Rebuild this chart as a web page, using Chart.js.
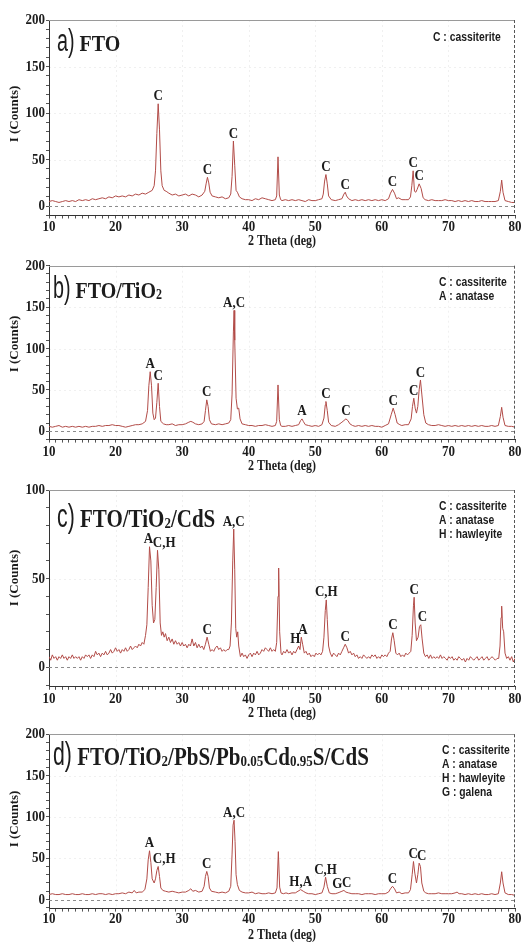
<!DOCTYPE html>
<html>
<head>
<meta charset="utf-8">
<script src="https://cdn.jsdelivr.net/npm/chart.js@4/dist/chart.umd.min.js"></script>
<style>
  html, body { margin: 0; padding: 0; background: #fff; }
  body { width: 523px; height: 942px; position: relative; overflow: hidden; }
  canvas { position: absolute; left: 0; }
</style>
</head>
<body>
<canvas id="panelA" width="523" height="250" style="top:0px;width:523px;height:250px"></canvas>
<canvas id="panelB" width="523" height="224" style="top:250px;width:523px;height:224px"></canvas>
<canvas id="panelC" width="523" height="252" style="top:472px;width:523px;height:252px"></canvas>
<canvas id="panelD" width="523" height="224" style="top:718px;width:523px;height:224px"></canvas>
<script>
// ---- tick labels ----
const xTickLabels = [10, 20, 30, 40, 50, 60, 70, 80];
const yTicksWide = [0, 50, 100, 150, 200];
const yTicksNarrow = [0, 50, 100];
const xAxisTitle = '2 Theta (deg)';
const yAxisTitle = 'I (Counts)';

// ---- scans: [2θ (deg), intensity (counts)] ----
const ftoScan = [[10,5],[10.5,6],[11,5],[11.5,4],[12,5],[12.5,6],[13,5],[13.5,6],[14,5],[14.5,7],[15,6],[15.5,7],[16,6],[16.5,8],[17,7],[17.5,8],[18,9],[18.5,8],[19,10],[19.5,9],[20,11],[20.5,10],[21,11],[21.5,10],[22,12],[22.5,11],[23,13],[23.5,12],[24,14],[24.5,13],[25,15],[25.5,17],[25.8,22],[26.0,38],[26.2,78],[26.4,110],[26.6,82],[26.8,38],[27.0,22],[27.3,17],[27.6,16],[28,14],[28.5,12],[29,13],[29.5,11],[30,12],[30.5,13],[31,11],[31.5,13],[32,12],[32.5,10],[33,12],[33.4,16],[33.6,24],[33.8,31],[34.0,25],[34.2,15],[34.5,11],[35,10],[35.5,9],[36,10],[36.5,8],[37,9],[37.3,13],[37.5,32],[37.7,70],[37.9,44],[38.1,17],[38.3,15],[38.6,10],[39,8],[39.5,7],[40,7],[40.5,6],[41,8],[41.5,7],[42,9],[42.5,8],[43,7],[43.5,6],[44,7],[44.2,11],[44.4,53],[44.6,12],[44.8,7],[45,6],[45.5,7],[46,6],[46.5,7],[47,6],[47.5,7],[48,6],[48.5,5],[49,7],[49.5,6],[50,6],[50.5,7],[51,8],[51.2,13],[51.4,27],[51.6,34],[51.8,24],[52.0,11],[52.4,7],[53,6],[53.5,7],[54,8],[54.3,13],[54.5,15],[54.7,11],[55,8],[55.5,6],[56,7],[56.5,6],[57,7],[57.5,6],[58,7],[58.5,6],[59,7],[59.5,6],[60,7],[60.5,6],[61,8],[61.3,14],[61.6,18],[61.9,14],[62.2,8],[62.5,9],[63,7],[63.5,7],[64,7],[64.3,10],[64.5,22],[64.7,38],[64.9,16],[65.1,15],[65.3,18],[65.6,24],[65.9,19],[66.2,9],[66.5,7],[67,6],[67.5,7],[68,6],[68.5,6],[69,6],[69.5,7],[70,6],[70.5,6],[71,5],[71.5,6],[72,5],[72.5,6],[73,5],[73.5,6],[74,5],[74.5,5],[75,6],[75.5,5],[76,5],[76.5,5],[77,5],[77.5,6],[77.8,16],[78.0,28],[78.2,15],[78.5,6],[79,5],[79.5,4],[80,4]];

const tio2Scan = [[10,6],[10.5,5],[11,6],[11.5,7],[12,5],[12.5,6],[13,5],[13.5,6],[14,5],[14.5,6],[15,5],[15.5,6],[16,5],[16.5,6],[17,6],[17.5,7],[18,6],[18.5,7],[19,7],[19.5,8],[20,7],[20.5,7],[21,6],[21.5,5],[22,6],[22.5,7],[23,8],[23.5,8],[24,9],[24.5,12],[24.8,25],[25.0,55],[25.2,72],[25.4,55],[25.6,22],[25.8,14],[26.0,16],[26.2,35],[26.4,58],[26.6,30],[26.8,12],[27.2,9],[27.6,8],[28,8],[28.5,9],[29,7],[29.5,8],[30,8],[30.5,9],[31,11],[31.3,12],[31.6,11],[32,9],[32.5,8],[33,9],[33.3,12],[33.5,25],[33.7,38],[33.9,30],[34.1,14],[34.4,9],[35,8],[35.5,9],[36,8],[36.5,9],[37,10],[37.3,14],[37.5,45],[37.7,120],[37.8,146],[37.9,110],[38.1,40],[38.3,27],[38.5,28],[38.7,15],[39,9],[39.5,8],[40,7],[40.5,7],[41,6],[41.5,7],[42,7],[42.5,8],[43,7],[43.5,6],[44,7],[44.2,12],[44.4,56],[44.6,14],[44.8,7],[45,6],[45.5,6],[46,7],[46.5,6],[47,7],[47.5,8],[47.8,13],[48.0,15],[48.2,12],[48.5,8],[49,7],[49.5,6],[50,7],[50.5,6],[51,8],[51.3,16],[51.5,32],[51.6,36],[51.8,25],[52.0,11],[52.4,7],[53,6],[53.5,8],[54,11],[54.3,13],[54.6,15],[54.9,13],[55.2,9],[55.6,7],[56,6],[56.5,7],[57,6],[57.5,7],[58,6],[58.5,7],[59,6],[59.5,6],[60,5],[60.5,7],[61,9],[61.4,20],[61.7,28],[62.0,20],[62.3,10],[62.7,8],[63,7],[63.5,8],[64,8],[64.4,15],[64.6,30],[64.8,40],[65.0,28],[65.2,22],[65.4,30],[65.6,50],[65.8,62],[66.0,45],[66.3,20],[66.6,10],[67,8],[67.5,7],[68,7],[68.5,8],[69,7],[69.5,6],[70,7],[70.5,6],[71,7],[71.5,6],[72,7],[72.5,6],[73,7],[73.5,6],[74,7],[74.5,6],[75,7],[75.5,6],[76,6],[76.5,7],[77,6],[77.5,7],[77.8,18],[78.0,29],[78.2,17],[78.5,7],[79,6],[79.5,6],[80,5]];

const cdsScan = [[10,6],[10.25,4],[10.5,7],[10.75,5],[11,6],[11.25,4],[11.5,6],[11.75,5],[12,7],[12.25,5],[12.5,6],[12.75,4],[13,6],[13.25,5],[13.5,7],[13.75,5],[14,6],[14.25,5],[14.5,6],[14.75,4],[15,6],[15.25,5],[15.5,7],[15.75,6],[16,7],[16.25,5],[16.5,7],[16.75,6],[17,9],[17.25,7],[17.5,8],[17.75,6],[18,8],[18.25,7],[18.5,9],[18.75,7],[19,8],[19.25,10],[19.5,8],[19.75,9],[20,11],[20.25,9],[20.5,10],[20.75,8],[21,10],[21.25,9],[21.5,11],[21.75,9],[22,10],[22.25,12],[22.5,10],[22.75,11],[23,12],[23.25,11],[23.5,13],[23.75,12],[24,14],[24.25,13],[24.5,18],[24.7,24],[24.9,45],[25.1,68],[25.3,60],[25.5,35],[25.7,25],[25.9,27],[26.1,45],[26.3,66],[26.5,55],[26.7,25],[26.9,18],[27.1,20],[27.3,17],[27.5,19],[27.75,15],[28,17],[28.25,14],[28.5,16],[28.75,13],[29,15],[29.25,13],[29.5,14],[29.75,12],[30,14],[30.25,12],[30.5,13],[30.75,11],[31,13],[31.25,12],[31.5,16],[31.75,12],[32,14],[32.25,11],[32.5,13],[32.75,11],[33,12],[33.25,10],[33.5,13],[33.75,17],[34,13],[34.25,9],[34.5,10],[34.75,9],[35,11],[35.25,12],[35.5,10],[35.75,11],[36,9],[36.25,10],[36.5,9],[36.75,10],[37,10],[37.2,12],[37.4,25],[37.6,60],[37.75,78],[37.9,55],[38.05,22],[38.2,17],[38.35,20],[38.5,12],[38.75,6],[39,8],[39.25,6],[39.5,7],[39.75,5],[40,7],[40.25,8],[40.5,6],[40.75,8],[41,7],[41.25,9],[41.5,7],[41.75,8],[42,10],[42.25,9],[42.5,11],[42.75,10],[43,9],[43.25,11],[43.5,9],[43.75,10],[44,9],[44.2,14],[44.4,40],[44.5,56],[44.65,20],[44.85,8],[45,7],[45.25,9],[45.5,8],[45.75,10],[46,8],[46.25,9],[46.5,7],[46.75,9],[47,8],[47.25,10],[47.5,12],[47.7,10],[47.9,17],[48.1,13],[48.35,8],[48.6,9],[48.85,7],[49.1,8],[49.35,6],[49.6,7],[49.85,6],[50.1,8],[50.35,7],[50.6,8],[50.85,7],[51.1,9],[51.3,17],[51.5,32],[51.65,38],[51.8,27],[52.0,12],[52.25,8],[52.5,6],[52.75,8],[53,7],[53.25,6],[53.5,8],[53.75,7],[54,9],[54.25,11],[54.5,13],[54.75,11],[55,8],[55.25,9],[55.5,7],[55.75,8],[56,6],[56.25,7],[56.5,5],[56.75,6],[57,5],[57.25,7],[57.5,6],[57.75,5],[58,6],[58.25,5],[58.5,7],[58.75,6],[59,7],[59.25,5],[59.5,6],[59.75,5],[60,7],[60.25,6],[60.5,7],[60.75,6],[61,8],[61.25,9],[61.45,16],[61.65,19.5],[61.85,15],[62.1,8],[62.35,7],[62.6,8],[62.85,6],[63.1,7],[63.35,6],[63.6,8],[63.85,7],[64.1,8],[64.35,9],[64.55,18],[64.75,35],[64.85,39.5],[65.0,25],[65.2,15],[65.45,17],[65.65,23],[65.85,24],[66.05,16],[66.3,8],[66.55,6],[66.8,7],[67.05,5],[67.3,7],[67.55,5],[67.8,6],[68.05,5],[68.3,6],[68.55,5],[68.8,7],[69.05,5],[69.3,6],[69.55,5],[69.8,4],[70.05,6],[70.3,5],[70.55,6],[70.8,4],[71.05,5],[71.3,4],[71.55,6],[71.8,5],[72.05,4],[72.3,5],[72.55,3],[72.8,5],[73.05,4],[73.3,6],[73.55,5],[73.8,4],[74.05,5],[74.3,6],[74.55,4],[74.8,5],[75.05,6],[75.3,4],[75.55,5],[75.8,6],[76.05,4],[76.3,5],[76.55,6],[76.8,5],[77.05,4],[77.3,5],[77.55,5],[77.75,12],[77.9,28],[78.0,34.5],[78.15,22],[78.3,20],[78.5,8],[78.75,5],[79,6],[79.25,4],[79.5,6],[79.75,3],[80,5]];

const stackScan = [[10,6],[10.5,7],[11,6],[11.5,6],[12,7],[12.5,6],[13,6],[13.5,7],[14,6],[14.5,6],[15,7],[15.5,6],[16,6],[16.5,7],[17,6],[17.5,7],[18,7],[18.5,6],[19,7],[19.5,6],[20,7],[20.5,7],[21,8],[21.5,7],[22,9],[22.5,8],[22.8,11],[23.1,8],[23.5,9],[24,9],[24.4,12],[24.7,25],[24.9,48],[25.1,59],[25.3,45],[25.5,25],[25.8,20],[26.0,25],[26.2,35],[26.4,40],[26.6,28],[26.8,14],[27.1,11],[27.5,10],[28,9],[28.5,10],[29,9],[29.5,8],[30,9],[30.5,9],[31,11],[31.3,13],[31.6,10],[32,11],[32.5,9],[33,10],[33.3,16],[33.5,28],[33.7,34],[33.9,28],[34.1,14],[34.4,10],[35,9],[35.5,8],[36,9],[36.5,8],[37,10],[37.3,16],[37.5,55],[37.65,90],[37.8,96],[37.95,70],[38.1,30],[38.3,18],[38.6,11],[39,9],[39.5,8],[40,8],[40.5,9],[41,7],[41.5,8],[42,7],[42.5,7],[43,8],[43.5,7],[44,8],[44.25,14],[44.45,58],[44.65,15],[44.85,8],[45.2,7],[45.6,8],[46,7],[46.5,8],[47,8],[47.4,10],[47.8,12],[48.2,10],[48.6,8],[49,7],[49.5,7],[50,6],[50.5,7],[51,8],[51.3,15],[51.55,27],[51.8,16],[52.1,8],[52.5,7],[53,7],[53.4,8],[53.7,9],[54,10],[54.3,11],[54.6,9],[55,8],[55.5,7],[56,7],[56.5,7],[57,6],[57.5,7],[58,7],[58.5,7],[59,6],[59.5,7],[60,7],[60.5,7],[61,9],[61.3,13],[61.6,16],[61.9,13],[62.2,8],[62.6,9],[63,7],[63.5,8],[64,8],[64.3,12],[64.55,30],[64.75,46],[64.95,32],[65.2,20],[65.4,30],[65.6,44],[65.8,40],[66.0,20],[66.3,10],[66.6,8],[67,7],[67.5,7],[68,7],[68.5,8],[69,7],[69.5,7],[70,7],[70.5,7],[71,8],[71.3,9],[71.6,7],[72,7],[72.5,6],[73,7],[73.5,6],[74,7],[74.5,6],[75,7],[75.5,6],[76,6],[76.5,7],[77,6],[77.5,7],[77.8,20],[78.0,33.6],[78.2,20],[78.5,8],[79,6],[79.5,6],[80,5]];

// ---- phase tags: [peak 2θ, tag, optional 2θ where the tag is centred] ----
const ftoTags = [[26.4,'C'],[33.8,'C'],[37.7,'C'],[51.6,'C'],[54.5,'C'],[61.6,'C'],[64.7,'C'],[65.6,'C']];
const tio2Tags = [[25.2,'A'],[26.4,'C'],[33.7,'C'],[37.8,'A,C'],[48.0,'A'],[51.6,'C'],[54.6,'C'],[61.7,'C'],[64.8,'C'],[65.8,'C']];
const cdsTags = [[25.1,'A',24.95],[26.3,'C,H',27.3],[33.75,'C'],[37.75,'A,C'],[47.5,'H',47.0],[47.9,'A',48.15],[51.65,'C,H'],[54.5,'C'],[61.65,'C'],[64.85,'C'],[65.85,'C',66.1]];
const stackTags = [[25.1,'A'],[26.4,'C,H',27.3],[33.7,'C'],[37.8,'A,C'],[47.8,'H,A'],[51.55,'C,H'],[53.7,'G',53.3],[54.3,'C',54.7],[61.6,'C'],[64.75,'C',64.7],[65.6,'C',66.0]];

// ---- phase keys ----
const ftoKey = ['C : cassiterite'];
const tio2Key = ['C : cassiterite', 'A : anatase'];
const cdsKey = ['C : cassiterite', 'A : anatase', 'H : hawleyite'];
const stackKey = ['C : cassiterite', 'A : anatase', 'H : hawleyite', 'G : galena'];

// ---- sample names: [text, style] ----
const ftoName = [['a)', 'tag'], [' FTO', 'main']];
const tio2Name = [['b)', 'tag'], [' FTO/TiO', 'main'], ['2', 'sub']];
const cdsName = [['c)', 'tag'], [' FTO/TiO', 'main'], ['2', 'sub'], ['/CdS', 'main']];
const stackName = [['d)', 'tag'], [' FTO/TiO', 'main'], ['2', 'sub'], ['/PbS/Pb', 'main'], ['0.05', 'sub'],
                   ['Cd', 'main'], ['0.95', 'sub'], ['S/CdS', 'main']];

// ---- styling ----
const LINE_COLOR = '#b24c48';
const INK = '#1c1c1c';
const SERIF = '"Liberation Serif", "Times New Roman", serif';
const SANS = '"Liberation Sans", Arial, sans-serif';
const PLOT_LEFT = 49;
const PLOT_RIGHT = 515;
const TALL = 1.2;   // glyphs are drawn slightly taller than wide

// page-space layout of each panel
const panels = [
  { id: 'panelA', top: 0,   h: 250, plotTop: 20,    plotBottom: 215.5, yMin: -10, yMax: 200, yTicks: yTicksWide,
    scan: ftoScan, tags: ftoTags, key: ftoKey, name: ftoName,
    nameX: 57, nameBase: 51, nameSize: 20, keyX: 433, keyY: 37, yTitleY: 114, xLabelY: 227, xTitleY: 241 },
  { id: 'panelB', top: 250, h: 224, plotTop: 265.7, plotBottom: 439.6, yMin: -10, yMax: 200, yTicks: yTicksWide,
    scan: tio2Scan, tags: tio2Tags, key: tio2Key, name: tio2Name,
    nameX: 53, nameBase: 298, nameSize: 20, keyX: 439, keyY: 282, yTitleY: 344, xLabelY: 452, xTitleY: 466 },
  { id: 'panelC', top: 472, h: 252, plotTop: 490,   plotBottom: 686.8, yMin: -11, yMax: 100, yTicks: yTicksNarrow,
    scan: cdsScan, tags: cdsTags, key: cdsKey, name: cdsName,
    nameX: 57, nameBase: 527, nameSize: 21, keyX: 439, keyY: 506, yTitleY: 578, xLabelY: 699, xTitleY: 713 },
  { id: 'panelD', top: 718, h: 224, plotTop: 734.3, plotBottom: 908.6, yMin: -11, yMax: 200, yTicks: yTicksWide,
    scan: stackScan, tags: stackTags, key: stackKey, name: stackName,
    nameX: 53, nameBase: 765, nameSize: 21, keyX: 442, keyY: 750, yTitleY: 819, xLabelY: 919, xTitleY: 935 }
];

// text with a vertical stretch, anchored at (x, y)
function tallText(ctx, text, x, y) {
  ctx.save();
  ctx.translate(x, y);
  ctx.scale(1, TALL);
  ctx.fillText(text, 0, 0);
  ctx.restore();
}

function drawName(ctx, runs, x, y, size) {
  let cx = x;
  ctx.fillStyle = INK;
  ctx.textBaseline = 'alphabetic';
  ctx.textAlign = 'left';
  runs.forEach(([text, kind]) => {
    ctx.save();
    if (kind === 'tag') {
      const sx = 0.76;
      ctx.font = `${Math.round(size * 1.32)}px ${SANS}`;
      const w = ctx.measureText(text).width * sx;
      ctx.translate(cx, y);
      ctx.scale(sx, TALL);
      ctx.fillText(text, 0, 0);
      cx += w;
    } else if (kind === 'sub') {
      ctx.font = `bold ${Math.round(size * 0.6)}px ${SERIF}`;
      tallText(ctx, text, cx, y + 1);
      cx += ctx.measureText(text).width;
    } else {
      ctx.font = `bold ${size}px ${SERIF}`;
      tallText(ctx, text, cx, y);
      cx += ctx.measureText(text).width;
    }
    ctx.restore();
  });
}

function localMax(scan, at, half) {
  let m = -Infinity;
  scan.forEach(([x, y]) => { if (x >= at - half && x <= at + half && y > m) m = y; });
  return m;
}

const decorPlugin = {
  id: 'xrdDecor',
  beforeDatasetsDraw(chart, args, opts) {
    const p = opts.panel;
    const { ctx, chartArea: a, scales: { x, y } } = chart;
    ctx.save();
    // faint dotted grid at the major ticks
    ctx.strokeStyle = 'rgba(0,0,0,0.06)';
    ctx.lineWidth = 1;
    ctx.setLineDash([2, 3]);
    xTickLabels.forEach(v => {
      if (v <= 10 || v >= 80) return;
      const px = Math.round(x.getPixelForValue(v)) + 0.5;
      ctx.beginPath(); ctx.moveTo(px, a.top); ctx.lineTo(px, a.bottom); ctx.stroke();
    });
    p.yTicks.forEach(v => {
      if (v <= 0 || v >= p.yMax) return;
      const py = Math.round(y.getPixelForValue(v)) + 0.5;
      ctx.beginPath(); ctx.moveTo(a.left, py); ctx.lineTo(a.right, py); ctx.stroke();
    });
    // dashed zero-count reference
    ctx.strokeStyle = '#8c8c8c';
    ctx.setLineDash([3, 3]);
    const y0 = Math.round(y.getPixelForValue(0)) + 0.5;
    ctx.beginPath(); ctx.moveTo(a.left, y0); ctx.lineTo(a.right, y0); ctx.stroke();
    ctx.restore();
  },
  afterDraw(chart, args, opts) {
    const p = opts.panel;
    const off = p.top;
    const { ctx, chartArea: a, scales: { x, y } } = chart;
    ctx.save();
    // frame: top edge and dashed right edge
    ctx.strokeStyle = '#9a9a9a';
    ctx.lineWidth = 1;
    ctx.beginPath(); ctx.moveTo(a.left, Math.round(a.top) + 0.5); ctx.lineTo(a.right, Math.round(a.top) + 0.5); ctx.stroke();
    ctx.strokeStyle = '#555';
    ctx.setLineDash([3, 2]);
    const rx = Math.round(a.right) - 0.5;
    ctx.beginPath(); ctx.moveTo(rx, a.top); ctx.lineTo(rx, a.bottom); ctx.stroke();
    ctx.setLineDash([]);

    ctx.fillStyle = INK;

    // tick labels, placed on the chart's own scales
    ctx.font = `bold 13px ${SERIF}`;
    ctx.textBaseline = 'middle';
    ctx.textAlign = 'center';
    xTickLabels.forEach(v => tallText(ctx, String(v), x.getPixelForValue(v), p.xLabelY - off));
    ctx.textAlign = 'right';
    p.yTicks.forEach(v => tallText(ctx, String(v), PLOT_LEFT - 4, y.getPixelForValue(v)));

    // phase tags above the peaks
    ctx.font = `bold 13px ${SERIF}`;
    ctx.textAlign = 'center';
    ctx.textBaseline = 'middle';
    p.tags.forEach(([at, text, labelAt]) => {
      const top = localMax(p.scan, at, 0.3);
      const px = x.getPixelForValue(labelAt !== undefined ? labelAt : at);
      const py = y.getPixelForValue(top) - 7.5;
      tallText(ctx, text, px, py);
    });

    // sample name
    drawName(ctx, p.name, p.nameX, p.nameBase - off, p.nameSize);

    // phase key
    ctx.font = `bold 11px ${SANS}`;
    ctx.textAlign = 'left';
    ctx.textBaseline = 'middle';
    ctx.fillStyle = INK;
    p.key.forEach((line, i) => {
      ctx.save();
      ctx.translate(p.keyX, p.keyY - off + i * 14);
      ctx.scale(0.94, TALL);
      ctx.fillText(line, 0, 0);
      ctx.restore();
    });

    // axis titles
    ctx.font = `bold 12px ${SERIF}`;
    ctx.textAlign = 'center';
    tallText(ctx, xAxisTitle, (PLOT_LEFT + PLOT_RIGHT) / 2, p.xTitleY - off);
    ctx.translate(15, p.yTitleY - off);
    ctx.rotate(-Math.PI / 2);
    ctx.font = `bold 13px ${SERIF}`;
    ctx.fillText(yAxisTitle, 0, 0);
    ctx.restore();
  }
};

panels.forEach(p => {
  const xMinor = [];
  for (let v = 10; v <= 80; v += 1) xMinor.push(v);
  const yMinor = [];
  for (let v = Math.ceil(p.yMin / 10) * 10; v <= p.yMax; v += 10) yMinor.push(v);
  const xHeight = p.h - (p.plotBottom - p.top);

  new Chart(document.getElementById(p.id), {
    type: 'line',
    data: {
      datasets: [{
        data: p.scan.map(([tt, c]) => ({ x: tt, y: c })),
        borderColor: LINE_COLOR,
        borderWidth: 1,
        pointRadius: 0,
        tension: 0,
        fill: false
      }]
    },
    options: {
      responsive: false,
      animation: false,
      events: [],
      layout: { autoPadding: false, padding: { top: p.plotTop - p.top, right: 523 - PLOT_RIGHT, left: 0, bottom: 0 } },
      plugins: { legend: { display: false }, tooltip: { enabled: false }, xrdDecor: { panel: p } },
      scales: {
        x: {
          type: 'linear', position: 'bottom', min: 10, max: 80,
          afterFit: s => { s.height = xHeight; },
          afterBuildTicks: s => { s.ticks = xMinor.map(v => ({ value: v })); },
          grid: { drawOnChartArea: false, drawTicks: true, tickLength: 3, tickColor: '#555' },
          border: { display: true, color: '#333', width: 1 },
          ticks: { display: false, autoSkip: false, maxRotation: 0 }
        },
        y: {
          type: 'linear', position: 'left', min: p.yMin, max: p.yMax,
          afterFit: s => { s.width = PLOT_LEFT; },
          afterBuildTicks: s => { s.ticks = yMinor.map(v => ({ value: v })); },
          grid: { drawOnChartArea: false, drawTicks: true, tickLength: 3, tickColor: '#555' },
          border: { display: true, color: '#333', width: 1 },
          ticks: { display: false, autoSkip: false }
        }
      }
    },
    plugins: [decorPlugin]
  });
});
</script>
</body>
</html>
